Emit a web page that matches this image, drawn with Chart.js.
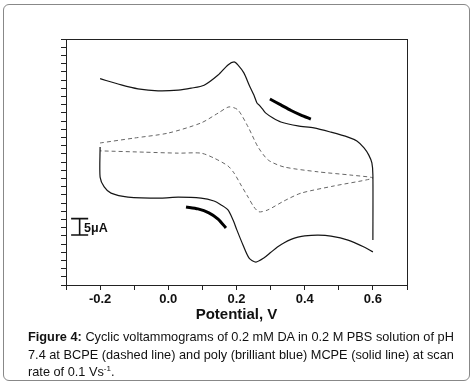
<!DOCTYPE html>
<html lang="en">
<head>
    <meta charset="UTF-8">
    <title>Figure 4: Cyclic voltammograms of DA</title>
    <script src="https://cdn.jsdelivr.net/npm/chart.js"></script>
    <style>
        body { margin: 0; background: #fff; }
        #frame {
            position: absolute; left: 3px; top: 4px;
            width: 467px; height: 377px; box-sizing: border-box;
            border: 1.5px solid #888; border-radius: 6px;
        }
        #cv { position: absolute; left: 0; top: 0; }
        #caption {
            position: absolute; left: 28px; top: 328px; width: 440px;
            font-family: 'Liberation Sans', Arial, sans-serif;
            font-size: 12.75px; line-height: 17.5px; color: #111;
            white-space: nowrap;
        }
        #caption sup { font-size: 8px; line-height: 0; }
    </style>
</head>
<body>
    <div id="frame"></div>
    <canvas id="cv" width="474" height="330"></canvas>
    <div id="caption"><b>Figure 4:</b> Cyclic voltammograms of 0.2 mM DA in 0.2 M PBS solution of pH<br>7.4 at BCPE (dashed line) and poly (brilliant blue) MCPE (solid line) at scan<br>rate of 0.1 Vs<sup>-1</sup>.</div>

    <script>
        // potential in V, current in uA
        const solidFwdE = [-0.2, -0.138, -0.089, -0.03, 0.029, 0.067, 0.105, 0.146, 0.175, 0.193, 0.204, 0.222, 0.237, 0.251, 0.26, 0.266, 0.278, 0.286, 0.307, 0.33, 0.38, 0.427, 0.477, 0.527, 0.553, 0.574, 0.588, 0.597, 0.6, 0.6];
        const solidFwdI = [25.4, 23.5, 22.3, 21.7, 21.9, 22.5, 23.4, 26.5, 29.6, 30.5, 29.6, 27.1, 23.5, 20.4, 18.0, 17.4, 15.9, 14.9, 13.4, 12.2, 11.0, 10.4, 9.1, 7.6, 6.4, 4.3, 2.1, -0.3, -4.0, -23.8];

        const solidRevE = [0.6, 0.574, 0.527, 0.477, 0.44, 0.40, 0.38, 0.36, 0.34, 0.32, 0.30, 0.281, 0.257, 0.237, 0.219, 0.201, 0.19, 0.175, 0.155, 0.134, 0.096, 0.029, -0.021, -0.118, -0.168, -0.188, -0.2, -0.2];
        const solidRevI = [-27.4, -25.9, -23.8, -22.6, -22.3, -22.5, -22.9, -23.6, -24.6, -25.9, -27.6, -29.2, -30.5, -29.3, -25.3, -20.7, -17.7, -14.6, -13.1, -11.9, -11.0, -10.7, -11.0, -10.7, -9.5, -7.6, -4.6, 4.6];

        const dashedE = [-0.2, -0.1, -0.001, 0.096, 0.146, 0.178, 0.204, 0.234, 0.263, 0.293, 0.339, 0.439, 0.536, 0.6,
                         0.486, 0.389, 0.339, 0.292, 0.266, 0.251, 0.234, 0.213, 0.193, 0.175, 0.134, 0.096, 0.029, -0.071, -0.2];
        const dashedI = [5.8, 7.3, 8.8, 11.9, 14.9, 16.8, 15.9, 10.7, 4.6, 0.6, -1.5, -3.0, -4.0, -4.9,
                         -7.3, -9.5, -11.9, -14.6, -15.2, -13.7, -10.7, -7.0, -3.4, -1.2, 1.2, 2.7, 2.7, 3.0, 3.4];

        const arrowUpE = [0.298, 0.33, 0.36, 0.389, 0.418];
        const arrowUpI = [19.2, 17.4, 15.7, 14.3, 13.1];
        const arrowDnE = [0.052, 0.087, 0.119, 0.146, 0.169];
        const arrowDnI = [-13.7, -14.3, -15.5, -17.4, -20.1];

        // 5 uA scale bar
        const barE = [-0.285, -0.235, null, -0.26, -0.26, null, -0.285, -0.235];
        const barI = [-17.25, -17.25, null, -17.25, -22.25, null, -22.25, -22.25];
        const barLabel = '5\u03bcA';
        const barLabelE = -0.247;
        const barLabelI = -21.4;

        const xTicks = [-0.2, 0.0, 0.2, 0.4, 0.6];

        function pts(xs, ys) {
            return xs.map((x, i) => ({ x: x, y: ys[i] }));
        }

        const fontFam = "'Liberation Sans', Arial, sans-serif";

        const framePlugin = {
            id: 'frame',
            afterDraw(chart) {
                const a = chart.chartArea, ctx = chart.ctx;
                ctx.save();
                ctx.strokeStyle = '#222';
                ctx.lineWidth = 1;
                ctx.strokeRect(a.left + 0.5, a.top + 0.5, a.right - a.left, a.bottom - a.top);
                const x = chart.scales.x.getPixelForValue(barLabelE);
                const y = chart.scales.y.getPixelForValue(barLabelI);
                ctx.fillStyle = '#111';
                ctx.font = 'bold 12.5px ' + fontFam;
                ctx.textBaseline = 'alphabetic';
                ctx.fillText(barLabel, x, y);
                ctx.restore();
            }
        };

        const line = (data, color, width, dash) => ({
            data: data, showLine: true, borderColor: color, borderWidth: width,
            borderDash: dash || [], pointRadius: 0, tension: 0.25, fill: false, spanGaps: false
        });

        new Chart(document.getElementById('cv'), {
            type: 'scatter',
            data: {
                datasets: [
                    line(pts(solidFwdE, solidFwdI), '#151515', 1.2),
                    line(pts(solidRevE, solidRevI), '#151515', 1.2),
                    line(pts(dashedE, dashedI), '#666', 1, [4, 3]),
                    line(pts(arrowUpE, arrowUpI), '#000', 3),
                    line(pts(arrowDnE, arrowDnI), '#000', 3),
                    Object.assign(line(pts(barE, barI), '#111', 1.6), { tension: 0 })
                ]
            },
            options: {
                responsive: false,
                animation: false,
                events: [],
                layout: { padding: { top: 39, right: 67, left: 0, bottom: 0 } },
                plugins: { legend: { display: false }, tooltip: { enabled: false } },
                scales: {
                    x: {
                        type: 'linear', min: -0.3, max: 0.7,
                        afterFit(s) { s.height = 45; },
                        border: { color: '#222', width: 1 },
                        grid: { drawOnChartArea: false, drawTicks: true, tickLength: 5, color: '#222' },
                        ticks: {
                            stepSize: 0.1, autoSkip: false, maxRotation: 0, padding: 2,
                            color: '#111', font: { family: fontFam, size: 13, weight: 'bold' },
                            callback(v) {
                                const hit = xTicks.find(t => Math.abs(t - v) < 1e-6);
                                return hit === undefined ? '' : hit.toFixed(1);
                            }
                        },
                        title: {
                            display: true, text: 'Potential, V', color: '#111',
                            font: { family: fontFam, size: 15, weight: 'bold' },
                            padding: { top: 0, bottom: 6 }
                        }
                    },
                    y: {
                        min: -37.5, max: 37.5,
                        afterFit(s) { s.width = 66; },
                        border: { color: '#222', width: 1 },
                        grid: { drawOnChartArea: false, drawTicks: true, tickLength: 5, color: '#222' },
                        ticks: { stepSize: 2.5, autoSkip: false, maxTicksLimit: 100, display: false }
                    }
                }
            },
            plugins: [framePlugin]
        });
    </script>
</body>
</html>
